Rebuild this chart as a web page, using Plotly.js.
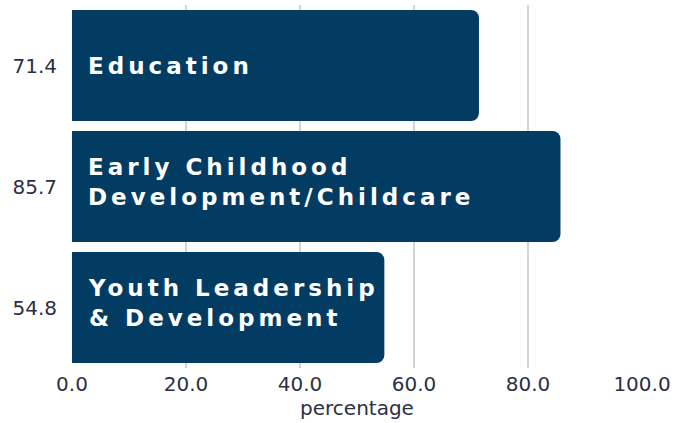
<!DOCTYPE html>
<html>
<head>
<meta charset="utf-8">
<script src="https://cdn.plot.ly/plotly-3.0.1.min.js"></script>
<style>
  body { margin: 0; background: #fff; }
  #myDiv { width: 684px; height: 423px; }
  text.annotation-text { letter-spacing: 4px; }
</style>
</head>
<body>
<div id="myDiv"></div>
<script>
var categories = ['Education', 'Early Childhood<br>Development/Childcare', 'Youth Leadership<br>& Development'];
var values = [71.4, 85.7, 54.8];
var xTicks = [0, 20, 40, 60, 80, 100];

var barColor = '#033c63';
var textColor = '#2b3045';

var trace1 = {
   type: 'bar',
   orientation: 'h',
   x: values,
   y: categories,
   marker: {
      color: barColor,
      cornerradius: 8
   },
   hoverinfo: 'x'
};

// labels sit inside the bars, starting just right of zero
var notes = categories.map(function (c) {
   return {
      x: 0,
      y: c,
      xref: 'x',
      yref: 'y',
      text: c,
      showarrow: false,
      xanchor: 'left',
      align: 'left',
      xshift: 14,
      yshift: c.indexOf('<br>') > -1 ? 5 : 0,
      font: { family: 'DejaVu Sans', size: 23, color: '#ffffff', weight: 700 }
   };
});

var layout = {
   width: 684,
   height: 423,
   margin: { l: 72, r: 42, t: 5, b: 55 },
   bargap: 0.083,
   paper_bgcolor: '#ffffff',
   plot_bgcolor: '#ffffff',
   showlegend: false,
   font: { family: 'DejaVu Sans', size: 20, color: textColor },
   xaxis: {
      range: [0, 100],
      tickvals: xTicks,
      ticktext: xTicks.map(function (v) { return v.toFixed(1); }),
      showgrid: true,
      gridcolor: '#d3d3d8',
      gridwidth: 1.5,
      zeroline: false,
      ticks: '',
      ticklabelstandoff: 2,
      title: { text: 'percentage', font: { size: 20, color: textColor }, standoff: 5 }
   },
   yaxis: {
      autorange: 'reversed',
      tickvals: categories,
      ticktext: values.map(function (v) { return v.toFixed(1); }),
      showgrid: false,
      zeroline: false,
      ticks: '',
      ticklabelstandoff: 14
   },
   annotations: notes
};

Plotly.newPlot('myDiv', [trace1], layout, { displayModeBar: false });
</script>
</body>
</html>
